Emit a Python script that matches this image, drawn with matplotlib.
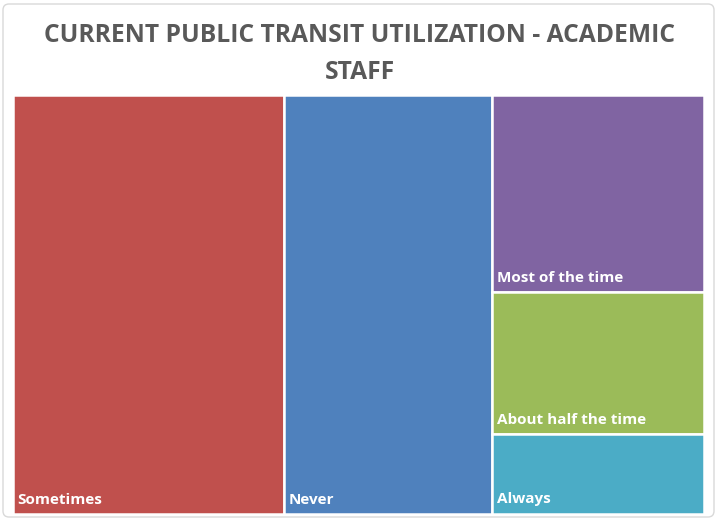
import matplotlib.pyplot as plt
from matplotlib.patches import Rectangle, FancyBboxPatch

# Treemap: current public transit utilization, academic staff
categories = ["Sometimes", "Never", "Most of the time", "About half the time", "Always"]
values = [39.0, 30.0, 14.3, 10.3, 5.8]
colors = ["#C0504D", "#4F81BD", "#8064A2", "#9BBB59", "#4BACC6"]
title = "CURRENT PUBLIC TRANSIT UTILIZATION - ACADEMIC\nSTAFF"


def worst(row, w):
    s = sum(row)
    return max(max(w * w * r / (s * s), s * s / (w * w * r)) for r in row)


def layout_row(row, x, y, dx, dy, vertical):
    # vertical: stack along the height (a column on the left)
    s = sum(row)
    out = []
    if vertical:
        cw = s / dy
        yy = y
        for r in row:
            h = r / cw
            out.append((x, yy, cw, h))
            yy += h
        return out, (x + cw, y, dx - cw, dy)
    ch = s / dx
    xx = x
    for r in row:
        w = r / ch
        out.append((xx, y, w, ch))
        xx += w
    return out, (x, y + ch, dx, dy - ch)


def squarify(vals, x, y, dx, dy):
    total = sum(vals)
    areas = [v * dx * dy / total for v in vals]
    rects = []
    rect = (x, y, dx, dy)
    i = 0
    while i < len(areas):
        x, y, dx, dy = rect
        vertical = dx >= dy
        side = dy if vertical else dx
        row = [areas[i]]
        i += 1
        while i < len(areas) and worst(row + [areas[i]], side) <= worst(row, side):
            row.append(areas[i])
            i += 1
        out, rect = layout_row(row, x, y, dx, dy, vertical)
        rects += out
    return rects


W, H = 718, 522
fig = plt.figure(figsize=(W / 100, H / 100), dpi=100)
ax = fig.add_axes([0, 0, 1, 1])
ax.set_xlim(0, W)
ax.set_ylim(H, 0)
ax.axis("off")

# outer chart border
ax.add_patch(FancyBboxPatch((3, 4), W - 7, H - 9, boxstyle="round,pad=0,rounding_size=6",
                            facecolor="white", edgecolor="#D9D9D9", lw=1.0))

rects = squarify(values, 12.5, 95, 691, 418.5)
for (rx, ry, rw, rh), name, c in zip(rects, categories, colors):
    ax.add_patch(Rectangle((rx, ry), rw, rh, facecolor=c, edgecolor="white", lw=1.8))
    ax.text(rx + 5, ry + rh - 10, name, color="white", fontsize=11, fontweight="bold",
            family="Open Sans", ha="left", va="baseline")

ax.text(W / 2 + 1, 54, title, ha="center", va="center", fontsize=17.7, fontweight="bold",
        color="#595959", family="Open Sans", linespacing=1.6)

fig.savefig("out.png", dpi=100)
